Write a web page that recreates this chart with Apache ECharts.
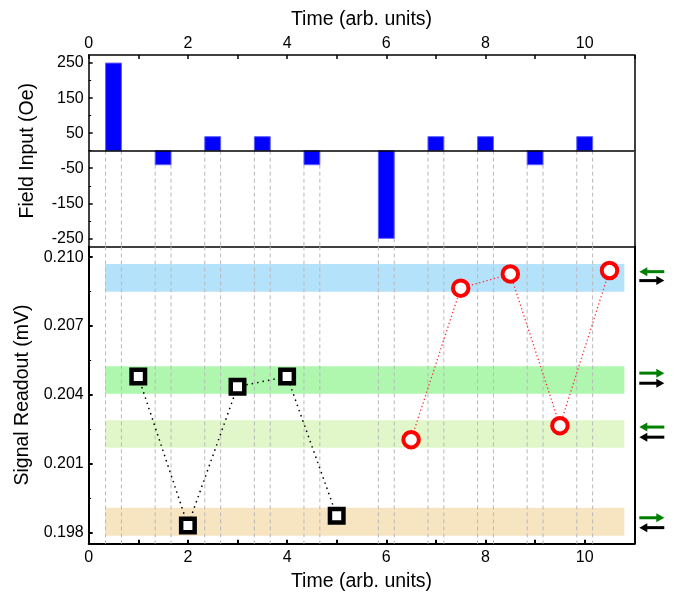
<!DOCTYPE html>
<html><head><meta charset="utf-8">
<script src="https://cdn.jsdelivr.net/npm/echarts@6/dist/echarts.min.js"></script>
<style>html,body{margin:0;padding:0;background:#fff}#c{width:686px;height:593px}</style>
</head><body><div id="c"></div>
<script>
// ---- data ----
const fieldTimes = [0.5, 1.5, 2.5, 3.5, 4.5, 6, 7, 8, 9, 10];
const fieldValues = [250, -40, 40, 40, -40, -250, 40, 40, -40, 40];
const squareTimes = [1, 2, 3, 4, 5];
const squareValues = [0.2048, 0.19831, 0.20436, 0.2048, 0.19874];
const circleTimes = [6.5, 7.5, 8.5, 9.5, 10.5];
const circleValues = [0.20205, 0.20865, 0.20927, 0.20266, 0.20942];
const bandLow = [0.2085, 0.20405, 0.2017, 0.19787];
const bandHigh = [0.2097, 0.20525, 0.2029, 0.19909];
const bandStart = 0.33, bandEnd = 10.8;
const timeTicks = [0, 2, 4, 6, 8, 10];
const fieldTicks = [-250, -150, -50, 50, 150, 250];
const fieldMinorTicks = [-200, -100, 0, 100, 200];
const signalTicks = [0.198, 0.201, 0.204, 0.207, 0.210];
const signalMinorTicks = [0.1995, 0.2025, 0.2055, 0.2085];
const arrowGreenY = [0.20937, 0.20495, 0.2026, 0.19865];
const arrowGreenDir = [-1, 1, -1, 1];
const arrowBlackY = [0.20898, 0.20451, 0.20216, 0.19822];
const arrowBlackDir = [1, 1, -1, -1];

// ---- style ----
const FONT = "'Liberation Sans', Arial, sans-serif";
const bandColors = ['#b5e2fb', '#aff7ae', '#e1f7c9', '#f7e5c2'];
const barW = 0.32;
const dashStyle = {stroke: '#b8b8b8', lineWidth: 1, lineDash: [4, 3]};
const xMin = 0, xMax = 11;
const fMin = -273, fMax = 273;
const sMin = 0.19752, sMax = 0.21047;

const chart = echarts.init(document.getElementById('c'), null, {renderer: 'canvas'});

function baseAxis(extra) {
  return Object.assign({
    type: 'value', splitLine: {show: false},
    axisLine: {show: true, onZero: false, lineStyle: {color: '#000', width: 1.5}},
    axisTick: {show: false},
    axisLabel: {show: false},
  }, extra);
}
const labelStyle = {color: '#000', fontSize: 16, fontFamily: FONT};
const nameStyle = {color: '#000', fontSize: 19.5, fontFamily: FONT};

function arrowRender(color) {
  return function (params, api) {
    const p = api.coord([api.value(0), api.value(1)]);
    const dir = api.value(2);
    const xs = p[0] + 5, xe = p[0] + 30, y = p[1];
    const head = 8, hh = 4.5;
    let shaft, poly;
    if (dir > 0) {
      shaft = {x1: xs, y1: y, x2: xe - head + 1, y2: y};
      poly = [[xe - head, y - hh], [xe, y], [xe - head, y + hh]];
    } else {
      shaft = {x1: xs + head - 1, y1: y, x2: xe, y2: y};
      poly = [[xs + head, y - hh], [xs, y], [xs + head, y + hh]];
    }
    return {type: 'group', children: [
      {type: 'line', shape: shaft, style: {stroke: color, lineWidth: 3}},
      {type: 'polygon', shape: {points: poly}, style: {fill: color}}
    ]};
  };
}

const option = {
  animation: false,
  backgroundColor: '#fff',
  grid: [
    {left: 88.7, right: 51.7, top: 55, height: 191.4, outerBoundsMode: 'none'},
    {left: 88.7, right: 51.7, top: 246.4, bottom: 49.3, outerBoundsMode: 'none'}
  ],
  xAxis: [
    baseAxis({gridIndex: 0, position: 'top', min: xMin, max: xMax, interval: 1,
      axisTick: {show: true, inside: true, length: 4, lineStyle: {color: '#000', width: 1.5}},
      axisLabel: {show: true, margin: 3, ...labelStyle, formatter: v => (timeTicks.indexOf(v) >= 0 ? String(v) : '')},
      name: 'Time (arb. units)', nameLocation: 'middle', nameGap: 25, nameTextStyle: nameStyle}),
    baseAxis({gridIndex: 1, position: 'bottom', min: xMin, max: xMax, interval: 1,
      axisLine: {show: true, onZero: false, lineStyle: {color: '#000', width: 2}},
      axisTick: {show: true, inside: true, length: 4, lineStyle: {color: '#000', width: 2}},
      axisLabel: {show: true, margin: 6, ...labelStyle, formatter: v => (timeTicks.indexOf(v) >= 0 ? String(v) : '')},
      name: 'Time (arb. units)', nameLocation: 'middle', nameGap: 28, nameTextStyle: nameStyle}),
    baseAxis({gridIndex: 1, position: 'top', min: xMin, max: xMax})
  ],
  yAxis: [
    baseAxis({gridIndex: 0, position: 'left', min: fMin, max: fMax,
      axisTick: {show: true, inside: true, length: 4, customValues: fieldTicks, lineStyle: {color: '#000', width: 1.5}},
      axisLabel: {show: true, margin: 5, ...labelStyle, customValues: fieldTicks},
      name: 'Field Input (Oe)', nameLocation: 'middle', nameGap: 51, nameTextStyle: nameStyle}),
    baseAxis({gridIndex: 0, position: 'left', min: fMin, max: fMax,
      axisLine: {show: false, onZero: false},
      axisTick: {show: true, inside: true, length: 2.5, customValues: fieldMinorTicks, lineStyle: {color: '#000', width: 1}}}),
    baseAxis({gridIndex: 0, position: 'right', min: fMin, max: fMax}),
    baseAxis({gridIndex: 1, position: 'left', min: sMin, max: sMax,
      axisLine: {show: true, onZero: false, lineStyle: {color: '#000', width: 2}},
      axisTick: {show: true, inside: true, length: 4, customValues: signalTicks, lineStyle: {color: '#000', width: 2}},
      axisLabel: {show: true, margin: 5, ...labelStyle, customValues: signalTicks, formatter: v => v.toFixed(3)},
      name: 'Signal Readout (mV)', nameLocation: 'middle', nameGap: 51, nameTextStyle: nameStyle}),
    baseAxis({gridIndex: 1, position: 'left', min: sMin, max: sMax,
      axisLine: {show: false, onZero: false},
      axisTick: {show: true, inside: true, length: 2.5, customValues: signalMinorTicks, lineStyle: {color: '#000', width: 1}}}),
    baseAxis({gridIndex: 1, position: 'right', min: sMin, max: sMax,
      axisLine: {show: true, onZero: false, lineStyle: {color: '#000', width: 2}}})
  ],
  series: [
    {
      type: 'custom', xAxisIndex: 0, yAxisIndex: 0, z: 2,
      data: fieldTimes.map((t, i) => [t, fieldValues[i]]),
      renderItem(params, api) {
        const x = api.value(0), v = api.value(1);
        const p1 = api.coord([x - barW / 2, v]);
        const p2 = api.coord([x + barW / 2, 0]);
        const cs = params.coordSys;
        const yBottom = cs.y + cs.height;
        const yStart = api.coord([x, Math.min(0, v)])[1];
        const xl = p1[0], xr = p2[0];
        return {type: 'group', children: [
          {type: 'line', shape: {x1: xl, y1: yStart, x2: xl, y2: yBottom}, style: dashStyle},
          {type: 'line', shape: {x1: xr, y1: yStart, x2: xr, y2: yBottom}, style: dashStyle},
          {type: 'rect', shape: {x: xl, y: Math.min(p1[1], p2[1]), width: xr - xl, height: Math.abs(p2[1] - p1[1])},
            style: {fill: '#0000ff', stroke: '#6060ff', lineWidth: 1}}
        ]};
      },
      markLine: {silent: true, symbol: 'none', label: {show: false},
        lineStyle: {color: '#000', width: 1.5, type: 'solid'}, data: [{yAxis: 0}]}
    },
    {
      type: 'custom', xAxisIndex: 1, yAxisIndex: 3, z: 1,
      data: bandLow.map((lo, i) => [lo, bandHigh[i], i]),
      renderItem(params, api) {
        const lo = api.value(0), hi = api.value(1), i = api.value(2);
        const a = api.coord([bandStart, hi]);
        const b = api.coord([bandEnd, lo]);
        return {type: 'rect', shape: {x: a[0], y: a[1], width: b[0] - a[0], height: b[1] - a[1]},
          style: {fill: bandColors[i]}};
      }
    },
    {
      type: 'custom', xAxisIndex: 1, yAxisIndex: 3, z: 2,
      data: fieldTimes.map(t => [t, sMin]),
      renderItem(params, api) {
        const x = api.value(0);
        const cs = params.coordSys;
        const xl = api.coord([x - barW / 2, sMin])[0];
        const xr = api.coord([x + barW / 2, sMin])[0];
        return {type: 'group', children: [
          {type: 'line', shape: {x1: xl, y1: cs.y, x2: xl, y2: cs.y + cs.height}, style: dashStyle},
          {type: 'line', shape: {x1: xr, y1: cs.y, x2: xr, y2: cs.y + cs.height}, style: dashStyle}
        ]};
      }
    },
    {
      type: 'line', xAxisIndex: 1, yAxisIndex: 3, z: 3,
      data: squareTimes.map((t, i) => [t, squareValues[i]]),
      symbol: 'rect', symbolSize: 13.5, showAllSymbol: true,
      itemStyle: {color: '#fff', borderColor: '#000', borderWidth: 4.5},
      lineStyle: {color: '#000', width: 1.5, type: [1.5, 4]}
    },
    {
      type: 'line', xAxisIndex: 1, yAxisIndex: 3, z: 3,
      data: circleTimes.map((t, i) => [t, circleValues[i]]),
      symbol: 'circle', symbolSize: 15.5, showAllSymbol: true,
      itemStyle: {color: '#fff', borderColor: '#ff0000', borderWidth: 4},
      lineStyle: {color: '#ff3030', width: 1.3, type: [1.3, 2.5]}
    },
    {
      type: 'custom', xAxisIndex: 1, yAxisIndex: 3, z: 4, clip: false,
      data: arrowGreenY.map((y, i) => [xMax, y, arrowGreenDir[i]]),
      renderItem: arrowRender('#008000')
    },
    {
      type: 'custom', xAxisIndex: 1, yAxisIndex: 3, z: 4, clip: false,
      data: arrowBlackY.map((y, i) => [xMax, y, arrowBlackDir[i]]),
      renderItem: arrowRender('#000000')
    }
  ]
};
chart.setOption(option);
</script></body></html>
